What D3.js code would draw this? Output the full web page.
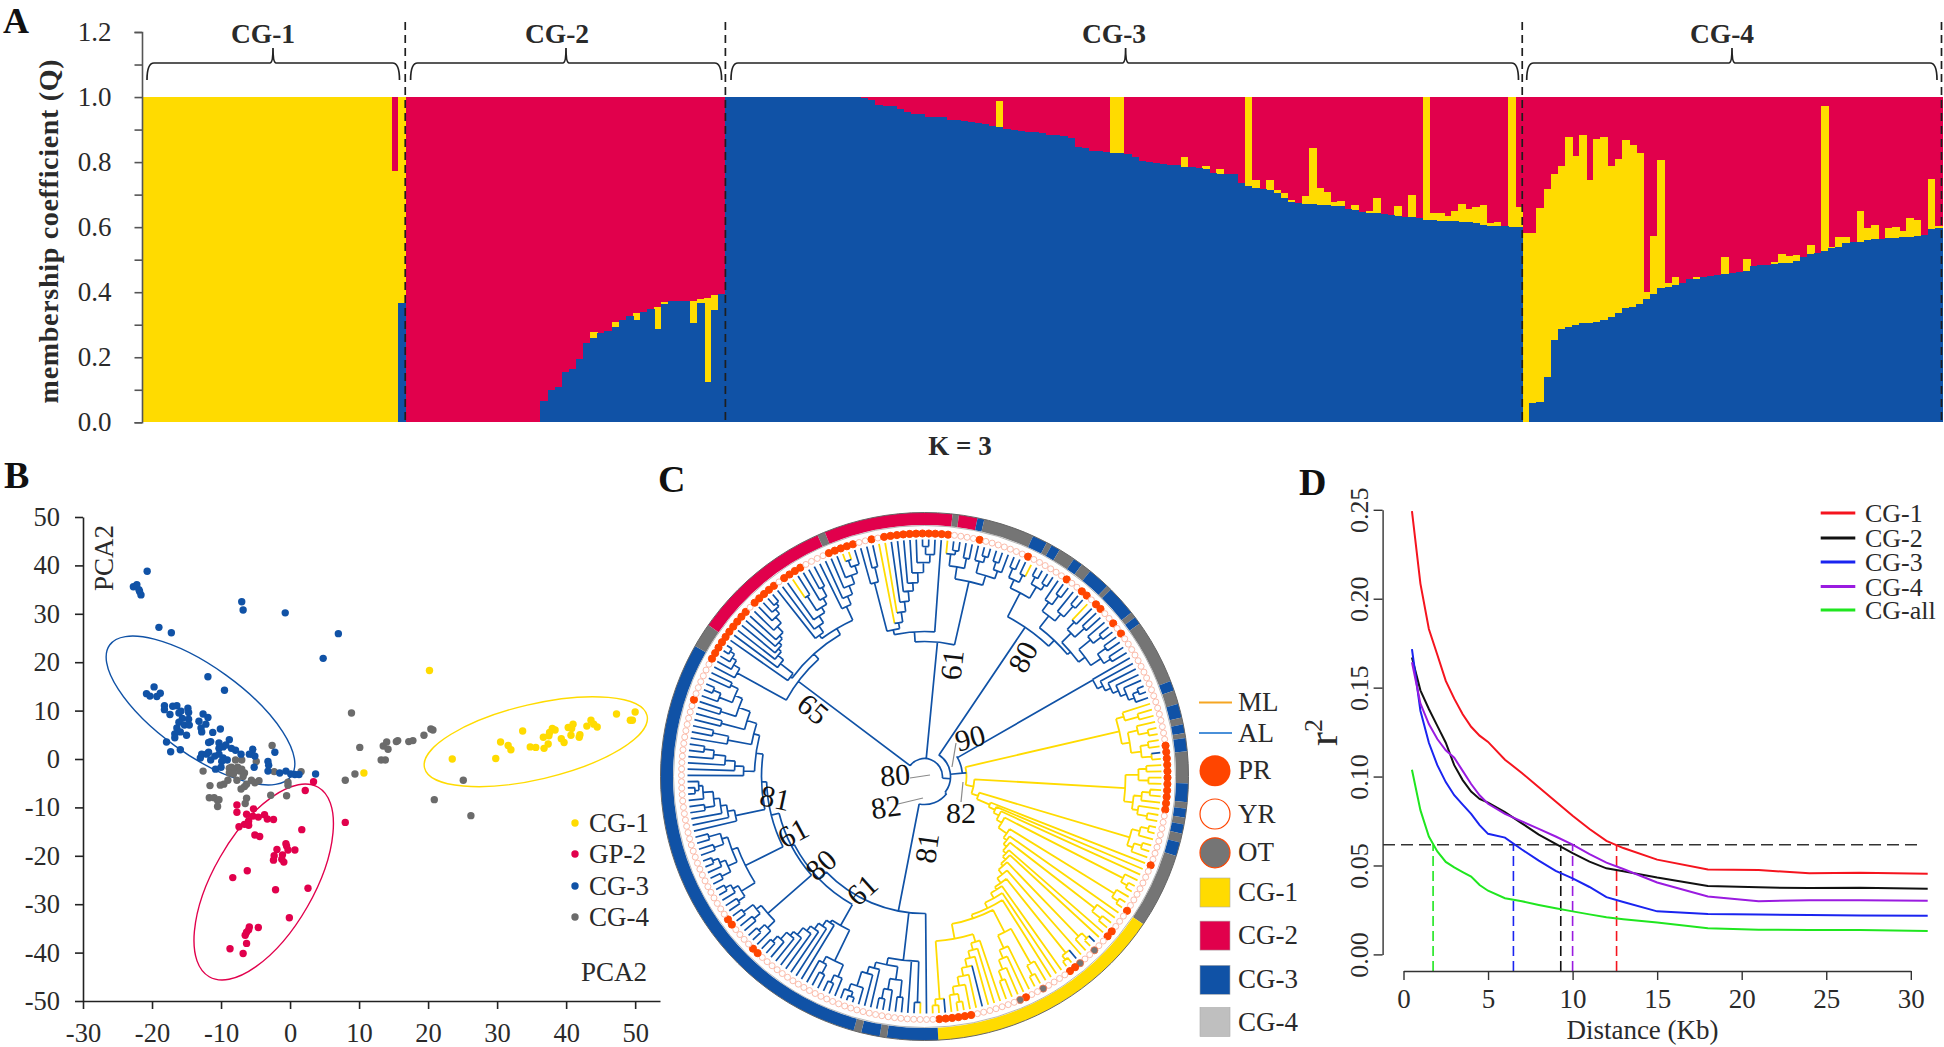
<!DOCTYPE html>
<html><head><meta charset="utf-8">
<script src="https://cdn.jsdelivr.net/npm/d3@7"></script>
<style>html,body{margin:0;padding:0;background:#fff}svg{display:block}text{font-family:"Liberation Serif",serif;fill:#2a2a2a}</style>
</head><body><svg id="c" width="1944" height="1047"></svg>
<script>
// ---------- PANEL A data: per-accession membership (blue top, yellow top; the rest up to 1 is red)
const cg1Blue=[0,0,0,0,0,0,0,0,0,0,0,0,0,0,0,0,0,0,0,0,0,0,0,0,0,0,0,0,0,0,0,0,0,0,0,0,.368];
const cg1Top =[1,1,1,1,1,1,1,1,1,1,1,1,1,1,1,1,1,1,1,1,1,1,1,1,1,1,1,1,1,1,1,1,1,1,1,.7725,1];
const cg2Blue=[0,0,0,0,0,0,0,0,0,0,0,0,0,0,0,0,0,0,0,.0666,.099,.11,.156,.163,.194,.243,.258,.276,.281,.294,.315,.328,.315,.34,.347,.288,.363,.372,.372,.373,.306,.368,.125,.345,.395];
const cg2Top =[0,0,0,0,0,0,0,0,0,0,0,0,0,0,0,0,0,0,0,.0666,.099,.11,.156,.163,.194,.243,.277,.276,.281,.309,.315,.328,.335,.34,.347,.353,.37,.372,.372,.373,.374,.38,.383,.391,.395];
const cg3Blue=[1,1,1,1,1,1,1,1,1,1,1,1,1,1,1,1,1,1,1,.998,.991,.975,.974,.974,.963,.955,.949,.947,.94,.938,.9375,.929,.928,.927,.924,.921,.918,.911,.909,.903,.899,.896,.894,.8935,.89,.883,.882,.88,.873,.846,.843,.835,.834,.832,.827,.827,.825,.8145,.804,.801,.796,.793,.792,.791,.786,.784,.781,.778,.765,.763,.763,.762,.735,.726,.721,.717,.714,.706,.6885,.678,.675,.671,.671,.669,.669,.666,.665,.655,.653,.6475,.644,.642,.639,.636,.634,.632,.63,.628,.622,.622,.62,.619,.618,.617,.615,.612,.608,.6045,.6045,.6035,.601,.5995];
const cg3Top =[1,1,1,1,1,1,1,1,1,1,1,1,1,1,1,1,1,1,1,.998,.991,.975,.974,.974,.963,.955,.949,.947,.94,.938,.9375,.929,.928,.927,.924,.921,.918,.911,.989,.903,.899,.896,.894,.8935,.89,.883,.882,.88,.873,.846,.843,.835,.834,.832,1,1,.825,.8145,.804,.801,.796,.793,.792,.791,.8145,.784,.781,.788,.765,.779,.763,.762,.735,1,.745,.717,.745,.714,.704,.685,.675,.696,.842,.719,.709,.678,.68,.655,.668,.6475,.65,.69,.639,.636,.665,.632,.70,.628,1,.645,.642,.634,.651,.671,.656,.663,.667,.614,.617,.6035,1,.661];
const cg4Blue=[0,.058,.0615,.138,.253,.286,.292,.299,.306,.306,.309,.3135,.325,.335,.35,.3555,.363,.378,.393,.412,.417,.422,.427,.44,.4405,.448,.451,.453,.456,.458,.461,.466,.4805,.4825,.4835,.487,.489,.491,.496,.507,.516,.519,.5275,.535,.538,.55,.553,.555,.56,.5625,.5645,.5655,.5665,.5695,.5705,.574,.575,.593,.596];
const cg4Top =[.581,.581,.658,.716,.762,.788,.876,.82,.883,.744,.871,.878,.788,.811,.869,.852,.829,.4,.573,.805,.429,.448,.427,.44,.446,.448,.451,.453,.508,.458,.461,.503,.4805,.4825,.4835,.492,.516,.511,.514,.507,.546,.519,.972,.54,.569,.569,.553,.651,.596,.6065,.5645,.596,.601,.588,.627,.621,.575,.748,.6035];
const qTicks=[0,.1,.2,.3,.4,.5,.6,.7,.8,.9,1,1.1,1.2];
const groupNames=["CG-1","CG-2","CG-3","CG-4"];

// ---------- PANEL B data: PCA coordinates
const pcaCG1=[[20.2,18.3],[10.7,-2.9],[23.5,0],[29.8,.1],[30.5,3.5],[31.6,2.8],[32,1.9],[33.7,5.8],[34.8,2.5],[35.6,2.4],[36.7,4.5],[37.5,4.8],[36.8,2.2],[37.4,3.1],[38,6.3],[38.4,6],[37.6,5.5],[39.3,4.2],[39.7,3.4],[40.3,6.5],[41,7.2],[40.7,4.9],[40.8,6.3],[41.9,4.5],[42,5],[43,6.8],[43.6,8],[44,7.2],[44.5,6.6],[47.3,9.3],[49.3,8],[49.6,8],[50,9.7]];
const pcaCG2=[[3.4,-4.7],[2.2,-6.5],[8,-13.1],[-7.7,-9.5],[-7.7,-11],[-5.3,-10.3],[-6.3,-11.4],[-5.4,-11.8],[-4.6,-12],[-3.7,-11.5],[-3.3,-12.4],[-2.4,-12.5],[-6,-12.8],[-6.6,-13.5],[-7.4,-14],[-6,-13.7],[-5.1,-15.7],[-4.4,-16],[1.7,-14.6],[-.6,-17.5],[-.5,-18],[-1.9,-18.7],[.7,-18.8],[-.3,-18.8],[-2.3,-20],[-1.1,-19.8],[-2.4,-20.9],[-1.2,-20.7],[-.9,-21.3],[-6.2,-23.1],[-8.3,-24.5],[-2.1,-27],[2.6,-26.7],[-.1,-32.8],[-4.6,-34.8],[-5.9,-34.7],[-6,-35.3],[-6.3,-35.8],[-6.5,-36.4],[-6.3,-38.1],[-6.8,-40.2],[-8.7,-39.2]];
const pcaCG3=[[-20.7,38.8],[-22.7,35.6],[-22.2,36],[-21.8,34.6],[-21.6,33.9],[-21.9,35],[-19,27.2],[-17.2,26.1],[-7,32.5],[-6.8,30.8],[-.7,30.2],[7,25.9],[4.8,20.8],[-11.9,17],[-9.5,14.2],[-20.8,13.5],[-20.3,13],[-19.7,14.9],[-19.3,12.9],[-18.8,13.6],[-18.2,11],[-18.2,10.2],[-17.4,9.2],[-17,10.9],[-16.4,11],[-16.1,9.5],[-15.8,9.9],[-15.6,8.4],[-16.1,7.6],[-16.4,6.4],[-15.9,5.6],[-16.7,5.2],[-15.3,7],[-14.8,10.5],[-14.7,9.6],[-14.7,8.2],[-14.6,7],[-15,4.9],[-16.7,4.4],[-17.9,3.5],[-17.3,1.5],[-15.9,1.9],[-13.2,7.8],[-12.9,6.4],[-12.6,9.3],[-11.9,8.6],[-12.2,7.2],[-12.8,5.6],[-11.2,5.5],[-10.1,6.2],[-11.5,3.6],[-11.8,3.4],[-10.3,3.3],[-10.3,2.2],[-9.7,2.5],[-8.8,4],[-9.3,2.9],[-8.5,2.2],[-7.9,1.8],[-7.1,1],[-5.4,2],[-5.5,1],[-5.9,1],[-5.1,.6],[-13,.2],[-12.8,1],[-12.1,1],[-11.5,-.2],[-10.9,.6],[-10.3,1],[-9.7,.2],[-9.9,-.5],[-10.8,-2.1],[-10,-1.7],[-11.8,1.4],[-9.1,-.2],[-5.2,-1.7],[-3.2,-.5],[-3.1,-1.3],[-3.2,-2.5],[-2.2,1.4],[-1.5,-2.9],[-.6,-2.5],[.1,-3.1],[.7,-3.2],[1.3,-3.2],[3.7,-3.1]];
const pcaCG4=[[8.9,9.5],[10.1,2.4],[9.4,-3.1],[8,-4.4],[13.2,-.2],[13.8,-.2],[13.5,2.7],[14,3.5],[14.2,2],[15.4,3.6],[15.6,3.8],[17.2,3.6],[17.8,3.8],[19.4,4.9],[20.4,6.2],[20.7,6],[25.1,-4.4],[20.9,-8.4],[26.2,-11.7],[-2.6,2.8],[1.6,-2.6],[-2.3,-2.6],[-12.6,-2.5],[-7.9,-.2],[-7,-.2],[-4.9,-.5],[-8.8,-1.9],[-8.5,-1.7],[-8.2,-2.1],[-8.8,-2.9],[-8.2,-3.1],[-7.6,-1.7],[-7,-2.1],[-6.6,-2.9],[-7.3,-2.5],[-6.8,-3.6],[-7.7,-4.4],[-9,-4.4],[-9.6,-5.2],[-10.1,-5.4],[-11.6,-5.5],[-5.6,-4.4],[-4.5,-4.5],[-5.1,-4.9],[-6.3,-5.2],[-6.6,-5.7],[-7.1,-6.2],[-.3,-4.8],[-.3,-5.4],[-2.8,-7.5],[-.5,-7.6],[-6.3,-8.1],[-6.5,-9.2],[-11.7,-8],[-11,-8],[-10.5,-8.6],[-10.3,-8.4],[-10.5,-9.8]];
const pcaNames=["CG-1","GP-2","CG-3","CG-4"];
const pcaTicksX=[-30,-20,-10,0,10,20,30,40,50];
const pcaTicksY=[-50,-40,-30,-20,-10,0,10,20,30,40,50];

// ---------- PANEL C data: ring classes, markers, tree
const ringStops=[[-55,"g"],[-23.9,"r"],[-22.2,"g"],[6.1,"r"],[7.5,"g"],[11.6,"r"],[13.1,"b"],[24.3,"g"],[27.6,"b"],[28.8,"g"],[30.8,"b"],[34.5,"g"],[36.6,"b"],[38.9,"g"],[43.8,"b"],[44.9,"g"],[51.6,"b"],[52.9,"g"],[54.6,"b"],[68.8,"g"],[71,"b"],[74,"g"],[77.1,"b"],[78.6,"g"],[80.5,"b"],[81.6,"g"],[84.5,"b"],[91.5,"g"],[95.6,"b"],[97,"g"],[99,"b"],[100.5,"g"],[102.5,"b"],[104.5,"g"],[107.5,"b"],[124,"g"],[177,"y"],[188.2,"b"],[189.8,"g"],[193.9,"b"],[195.6,"g"],[299.6,"b"]];
const ringEnd=305;
const prAngles=[-8.9,-7.6,-6.3,-5,-3.7,-2.4,-1.1,.2,1.5,2.8,4.1,5.6,12.5,25.4,35.2,40.9,42.3,45.2,46.7,51.1,53.8,83,84.2,85.4,86.6,87.8,89,90.2,91.4,92.6,93.8,95,96.2,97.4,98,110.7,123.5,129.5,130.8,142,143.5,154.9,169.2,170.4,171.6,172.8,174,175.2,176.2,234.7,231.8,224.7,223.3,288.6,298.7,300,301.2,302.4,303.6,304.5,307.2,308.4,309.6,310.8,312,313.1,315.7,316.9,318.1,319.3,320.5,321.5,324.3,325.6,326.9,328.2,329.1,330,337.1,338.3,339.5,340.7,341.9,342.9,347];
const otAngles=[136.3,140.6,150.6,156.7];

// shorthand for ladder clades: each item is a node radius with one leaf (0),
// or [radius, side branch]; node = [radius, child, child...]; leaf 0 = clade colour, leaf 1 = other colour
const ladder=(tail,...it)=>{let n=tail;for(let i=it.length-1;i>=0;i--){const a=it[i],r=Array.isArray(a)?a[0]:a,s=Array.isArray(a)?a[1]:0;n=[r,s,n];}return n;};
const cw=(...it)=>ladder(0,...it);

const c65=[158, cw(214,221,226,231),
  [165, cw(167,183,190,194,198,202,210,218,224,228),
    [172, cw(176,184,192,[198,[215,1,0]],205,215),
          cw(187,196,205,214,[222,[229,1,1]])]]];
const c61=[135,
  [145,[150,[200,0,[215,0,0]],cw([156,1],[166,1],176,186,194,204,214,[222,[230,0,0]])],0],
  [200,[212,[224,1,[228,0,0]],[222,0,0]],[210,[222,0,[228,0,0]],[218,[226,0,0],0]]]];
const c80=[180,
  [207,[216,[226,0,0],[224,0,1]],[220,[228,0,0],[226,0,0]]],
  [188,[203,[214,0,[225,0,0]],[212,0,[226,0,0]]],
       [192,[205,[215,1,0],[218,0,0]],[200,[215,0,[225,0,0]],[212,[222,0,0],[220,0,0]]]]]];
const c90=cw(194,200,206,212,218,[224,[230,0,0]]);
const cYa=[200,[208,0,[222,0,0]],[208,[218,0,[228,0,0]],[218,[226,0,0],[228,1,0]]]];
const cYb=[201,[214,[222,0,0],[224,0,0]],[210,[218,[226,0,0],0],[216,0,[226,0,0]]]];
const cYc=[214,[222,[230,0,0],0],[220,[228,0,0],0]];
const cYend=[150,
  [175,[215,0,[226,0,0]],cw(189,198,208,[218,0])],
  [165,cw(173,180,187,[195,1],203,212,[220,[228,0,0]]),[223,1,[229,0,0]]]];
const cYcomb=ladder(cYend,71,78,84,[90,[223,0,[230,0,0]]],[100,[223,0,[230,0,0]]],104,[108,[215,0,[226,0,0]]],112,116,[119,[222,[229,1,0],0]],125,[131,[226,1,[231,0,0]]],134,140,146);
const cY=[42,cYa,[50,cYb,[57,cYc,cYcomb]]];
const n10=[206,[220,0,[228,0,0]],[214,0,0]];
const n9=[198,[214,0,0],n10];
const n8=[186,[210,0,0],n9];
const n7=[176,[200,0,[216,0,0]],n8];
const n6=[170,cw(181,190,200,212,222),n7];
const n5=[163,cw(193,200,206,[212,[222,0,0]],222,[226,[230,0,0]]),n6];
const n4=[158,[200,[216,[224,0,0],[222,0,[228,0,0]]],[206,[216,[226,0,0],[222,0,[228,0,0]]],[212,[222,0,0],[224,0,0]]]],n5];
const n3=[150,[208,[218,0,[226,0,0]],[214,[222,0,0],[226,0,0]]],n4];
const n2=[147,[171,[205,[218,0,[226,0,0]],[212,[222,0,0],0]],cw(174,181,188,194,203,208,217,224)],n3];
const c81=[137,0,[185,[226,1,0],0,[192,[205,[222,0,0],[216,0,[226,0,0]]],cw(198,205,220,[227,[232,0,0]])]],n2];
const cladeSpecs=[c65,c61,c80,c90,cY,c81];
const cladeStemFrom=[18,18,26,38,38,28];
const cladeStemAngle=[307,365.5,394,420.2,445,551];
const cladeYellow=[false,false,false,false,true,false];
const centerArcs=[[18,307,455],[26,393,488],[28,488,551],[38,418,445]];
const centerLinks=[[18,26,455],[26,28,488],[26,38,445]];
const supportLabels=[["65",813,709,40],["61",952,665,-84],["80",1023,657,-62],["90",970,738,-15],["80",895,775,-5],["82",886,807,-8],["82",961,813,0],["81",927,848,-82],["81",775,798,12],["61",793,833,-28],["80",821,865,-42],["61",862,890,-42]];
const leaders=[[910,778,930,775],[898,804,923,798],[961,802,963,782],[952,767,956,743]];
const treeLegendNames=["ML","AL","PR","YR","OT","CG-1","CG-2","CG-3","CG-4"];

// ---------- PANEL D data: LD decay
const ldNames=["CG-1","CG-2","CG-3","CG-4","CG-all"];
const kbMain=[.5,1,1.5,2,2.5,3,3.5,4,4.5,5,6,7,8,9,10,11,12,13,15,18,21,24,27,31];
const ld1=[.2492,.2085,.183,.1685,.1538,.1438,.135,.128,.123,.1195,.1095,.102,.094,.086,.078,.0705,.0638,.0598,.0533,.0478,.0474,.0457,.0459,.0453];
const ld2=[.167,.1485,.138,.1285,.119,.1064,.098,.0916,.0874,.0853,.08,.0737,.0674,.0621,.0569,.0522,.0484,.0468,.0432,.0385,.0377,.0373,.0375,.0369];
const ld3=[.1717,.137,.119,.1064,.0969,.0895,.0842,.079,.0727,.0678,.0657,.059,.0527,.047,.0428,.0379,.0322,.0295,.0242,.0227,.0225,.0221,.0219,.0217];
const ld4=[.1643,.1411,.1295,.1211,.1148,.1106,.1032,.0958,.0895,.0847,.079,.0748,.0706,.0663,.0617,.0564,.0516,.048,.0404,.0326,.0299,.0305,.0305,.0301];
const ldAll=[.1038,.0811,.0663,.0579,.052,.0489,.0463,.0438,.039,.0358,.0316,.0299,.0278,.0259,.0242,.0225,.0209,.0198,.0179,.0147,.0139,.0137,.0137,.0131];
const halfDecayKb=[12.6,9.3,6.5,10,1.75];
const halfDecayR2=.0617;

// ---------- colours
const YEL="#ffdb00",RED="#e1004c",BLU="#1052a6",GRY="#757575";
const svg=d3.select("#c");
const T=(g,s,x,y,o={})=>{const t=g.append("text").text(s).attr("x",x).attr("y",y).attr("font-size",o.size||25);
  if(o.bold)t.attr("font-weight","bold");if(o.anchor)t.attr("text-anchor",o.anchor);if(o.rot!==undefined)t.attr("transform",`rotate(${o.rot} ${x} ${y})`);return t;};

// panel letters
[["A",3,33,36],["B",4,488,38],["C",658,492,38],["D",1299,495,38]].forEach(d=>T(svg,d[0],d[1],d[2],{size:d[3],bold:true}).style("fill","#111"));

// ========== A
{
 const g=svg.append("g");
 const blue=[...cg1Blue,...cg2Blue,...cg3Blue,...cg4Blue];
 const top=[...cg1Top,...cg2Top,...cg3Top,...cg4Top];
 const x=d3.scaleBand().domain(d3.range(blue.length)).range([142,1942]);
 const y=d3.scaleLinear().domain([0,1.2]).range([422.3,32]);
 const rows=blue.map((b,i)=>({i,b,t:top[i]}));
 const seg=(lo,hi,c)=>g.append("g").attr("shape-rendering","crispEdges").selectAll("rect").data(rows.filter(d=>hi(d)>lo(d))).join("rect")
   .attr("x",d=>x(d.i)).attr("width",x.bandwidth()+.6).attr("y",d=>y(hi(d))).attr("height",d=>y(lo(d))-y(hi(d))).attr("fill",c);
 seg(d=>d.t,d=>1,RED); seg(d=>d.b,d=>d.t,YEL); seg(d=>0,d=>d.b,BLU);
 const ax=g.append("g").attr("transform","translate(142,0)").call(d3.axisLeft(y).tickValues(qTicks).tickSize(7.5).tickPadding(23)
   .tickFormat(v=>Math.abs(v*5-Math.round(v*5))<1e-6?d3.format(".1f")(v):""));
 ax.selectAll("path,line").attr("stroke","#555").attr("stroke-width",1.6);
 ax.selectAll("text").attr("font-size",27).style("font-family",'"Liberation Serif"');
 T(g,"membership coefficient (Q)",50,231,{size:28,bold:true,anchor:"middle",rot:-90}).attr("dy",8).style("letter-spacing",".7px");
 const cuts=[0,cg1Blue.length,cg1Blue.length+cg2Blue.length,cg1Blue.length+cg2Blue.length+cg3Blue.length,blue.length];
 cuts.slice(1).forEach((c,i)=>g.append("line").attr("x1",i==3?1941.5:x(c)).attr("x2",i==3?1941.5:x(c)).attr("y1",22).attr("y2",422).attr("stroke","#1e1e1e").attr("stroke-width",1.7).attr("stroke-dasharray","8,5"));
 const brackets=[[147,399.5,273,263],[410.6,721.6,566,557],[731,1518.5,1125.6,1114],[1526.7,1937,1732,1722]];
 brackets.forEach((b,i)=>{
  const p=d3.path();const t=63,bot=80,pk=48;
  p.moveTo(b[0],bot);p.quadraticCurveTo(b[0],t,b[0]+7,t);p.lineTo(b[2]-3,t);p.quadraticCurveTo(b[2],t,b[2],pk);
  p.quadraticCurveTo(b[2],t,b[2]+3,t);p.lineTo(b[1]-7,t);p.quadraticCurveTo(b[1],t,b[1],bot);
  g.append("path").attr("d",p.toString()).attr("fill","none").attr("stroke","#222").attr("stroke-width",1.7);
  T(g,groupNames[i],b[3],42.5,{size:27.5,bold:true,anchor:"middle"});
 });
 T(g,"K = 3",960,455,{size:27,bold:true,anchor:"middle"});
}

// ========== B
{
 const g=svg.append("g");
 const x=d3.scaleLinear().domain([-30,53.6]).range([83,660]);
 const y=d3.scaleLinear().domain([-50,50]).range([1001,517]);
 const sets=[[pcaCG4,GRY,"#6b6b6b"],[pcaCG3,BLU],[pcaCG2,RED],[pcaCG1,YEL]];
 const ell=[[200.5,710.5,112,43.6,35.8,BLU],[535.8,741.7,114.3,37.6,-13.2,YEL],[263.7,882,109.3,50.2,-60.1,RED]];
 ell.forEach(e=>g.append("ellipse").attr("cx",e[0]).attr("cy",e[1]).attr("rx",e[2]).attr("ry",e[3]).attr("transform",`rotate(${e[4]} ${e[0]} ${e[1]})`).attr("fill","none").attr("stroke",e[5]).attr("stroke-width",1.4));
 sets.forEach(s=>g.append("g").selectAll("circle").data(s[0]).join("circle").attr("cx",d=>x(d[0])).attr("cy",d=>y(d[1])).attr("r",3.7).attr("fill",s[2]||s[1]));
 const ax=g.append("g").attr("transform","translate(0,1001)").call(d3.axisBottom(x).tickValues(pcaTicksX).tickSize(8).tickPadding(14).tickSizeOuter(0).tickFormat(d=>d));
 const ay=g.append("g").attr("transform","translate(83,0)").call(d3.axisLeft(y).tickValues(pcaTicksY).tickSize(8).tickPadding(15).tickSizeOuter(0).tickFormat(d=>d));
 [ax,ay].forEach(a=>{a.selectAll("path,line").attr("stroke","#222").attr("stroke-width",1.6);a.selectAll("text").attr("font-size",26.5).text(function(){return this.textContent.replace("−","-");}).style("font-family",'"Liberation Serif"');});
 T(g,"PCA2",113,558,{size:27,anchor:"middle",rot:-90});
 T(g,"PCA2",614,981,{size:27,anchor:"middle"});
 const cols=[YEL,RED,BLU,"#6b6b6b"],ly=[823,854,886,917];
 pcaNames.forEach((n,i)=>{g.append("circle").attr("cx",575).attr("cy",ly[i]).attr("r",3.7).attr("fill",cols[i]);T(g,n,589,ly[i]+9,{size:27});});
}

// ========== C
{
 const g=svg.append("g"),cx=924.5,cy=776.5,TIP=237,RL=243;
 const rad=d=>d*Math.PI/180;
 const pol=(a,r)=>[cx+r*Math.sin(rad(a)),cy-r*Math.cos(rad(a))];
 const toNode=s=>Array.isArray(s)?{r:s[0],children:s.slice(1).map(toNode)}:{odd:s===1};
 const roots=cladeSpecs.map(toNode);
 const forest=d3.hierarchy({r:0,children:roots});
 const leaves=forest.leaves();
 const ang=d3.scaleLinear().domain([0,leaves.length]).range([297.5,657.5]);
 leaves.forEach((l,i)=>{l.a=ang(i);l.i=i;});
 forest.eachAfter(n=>{if(n.children)n.a=(n.children[0].a+n.children[n.children.length-1].a)/2;});
 // ring
 const RC={y:YEL,r:RED,b:BLU,g:GRY};
 const arcGen=d3.arc().innerRadius(251.5).outerRadius(264);
 ringStops.forEach((s,i)=>{
   const a0=s[0],a1=i<ringStops.length-1?ringStops[i+1][0]:ringEnd;
   g.append("path").attr("transform",`translate(${cx},${cy})`).attr("d",arcGen({startAngle:rad(a0),endAngle:rad(a1)})).attr("fill",RC[ringStops[i+1]?ringStops[i+1][1]:"g"]);
 });
 g.append("circle").attr("cx",cx).attr("cy",cy).attr("r",264).attr("fill","none").attr("stroke","#666").attr("stroke-width",1);
 g.append("circle").attr("cx",cx).attr("cy",cy).attr("r",251).attr("fill","none").attr("stroke","#999").attr("stroke-width",.7);
 // branches
 const bl=[],yl=[];
 const addArc=(r,a0,a1,col)=>{const p=d3.path();p.arc(cx,cy,r,rad(a0-90),rad(a1-90));col.push(p.toString());};
 const addRad=(a,r0,r1,col)=>{const p=d3.path();const s=pol(a,r0),e=pol(a,r1);p.moveTo(s[0],s[1]);p.lineTo(e[0],e[1]);col.push(p.toString());};
 forest.children.forEach((cl,ci)=>{
   const own=cladeYellow[ci]?yl:bl,other=cladeYellow[ci]?bl:yl;
   addRad(cladeStemAngle[ci],cladeStemFrom[ci],cl.data.r,bl);
   cl.each(n=>{ if(!n.children)return;
     const fc=n.children[0],lc=n.children[n.children.length-1];
     addArc(n.data.r,fc.a,lc.a,own);
     n.children.forEach(ch=>addRad(ch.a,n.data.r,ch.children?ch.data.r:TIP,ch.data.odd?other:own));
   });
 });
 centerArcs.forEach(a=>addArc(a[0],a[1],a[2],bl));
 centerLinks.forEach(l=>addRad(l[2],l[0],l[1],bl));
 g.append("path").attr("d",yl.join("")).attr("fill","none").attr("stroke",YEL).attr("stroke-width",1.8);
 g.append("path").attr("d",bl.join("")).attr("fill","none").attr("stroke",BLU).attr("stroke-width",1.7);
 // leaf markers
 const nearest=a=>{const n=leaves.length,k=((a-297.5)%360+360)%360;return Math.round(k/360*n)%n;};
 const pr=new Set(prAngles.map(nearest)),ot=new Set(otAngles.map(nearest));
 g.append("g").selectAll("circle").data(leaves).join("circle").each(function(l){const p=pol(l.a,RL);d3.select(this).attr("cx",p[0]).attr("cy",p[1]);})
   .attr("r",d=>pr.has(d.i)||ot.has(d.i)?3.6:3).attr("fill",d=>ot.has(d.i)?GRY:pr.has(d.i)?"#ff4500":"#fff").attr("stroke",d=>ot.has(d.i)?"#ff7040":pr.has(d.i)?"#ff4500":"#fbbcab").attr("stroke-width",d=>ot.has(d.i)?.8:1);
 // support
 leaders.forEach(l=>g.append("line").attr("x1",l[0]).attr("y1",l[1]).attr("x2",l[2]).attr("y2",l[3]).attr("stroke","#8a8a8a").attr("stroke-width",1.2));
 supportLabels.forEach(s=>g.append("text").text(s[0]).attr("text-anchor","middle").attr("dy",".34em").attr("font-size",30).attr("transform",`translate(${s[1]},${s[2]}) rotate(${s[3]})`).style("fill","#111"));
 // legend
 const ty=[702.6,733,770.7,814,852.8,892.5,935.6,979.8,1022];
 [["#f5a623"],["#4a90d9"]].forEach((c,i)=>g.append("line").attr("x1",1199).attr("x2",1232).attr("y1",ty[i]).attr("y2",ty[i]).attr("stroke",c[0]).attr("stroke-width",2));
 g.append("circle").attr("cx",1215).attr("cy",ty[2]).attr("r",15.5).attr("fill","#ff4500");
 g.append("circle").attr("cx",1215).attr("cy",ty[3]).attr("r",15).attr("fill","#fff").attr("stroke","#ff4500").attr("stroke-width",1.2);
 g.append("circle").attr("cx",1215).attr("cy",ty[4]).attr("r",15).attr("fill",GRY).attr("stroke","#ff4500").attr("stroke-width",1.2);
 [YEL,RED,BLU,"#bfbfbf"].forEach((c,i)=>g.append("rect").attr("x",1200).attr("y",ty[5+i]-14.5).attr("width",30).attr("height",29).attr("fill",c).attr("stroke","#aaa").attr("stroke-width",.6));
 treeLegendNames.forEach((n,i)=>T(g,n,1238,ty[i]+8.5,{size:27}));
}

// ========== D
{
 const g=svg.append("g");
 const x=d3.scaleLinear().domain([0,30]).range([1403.5,1910.8]);
 const y=d3.scaleLinear().domain([0,.25]).range([954.4,509.8]);
 const ys=[ld1,ld2,ld3,ld4,ldAll],cols=["#f5141e","#111","#1a24f0","#9a1be0","#1fe61f"];
 const line=d3.line().x(d=>x(d[0])).y(d=>y(d[1]));
 g.append("line").attr("x1",1383).attr("x2",x(30.5)).attr("y1",y(halfDecayR2)).attr("y2",y(halfDecayR2)).attr("stroke","#333").attr("stroke-width",1.5).attr("stroke-dasharray","12,6");
 halfDecayKb.forEach((k,i)=>g.append("line").attr("x1",x(k)).attr("x2",x(k)).attr("y1",971).attr("y2",y(halfDecayR2)).attr("stroke",cols[i]).attr("stroke-width",1.6).attr("stroke-dasharray","10,5"));
 ys.forEach((v,i)=>g.append("path").attr("d",line(kbMain.map((k,j)=>[k,v[j]]))).attr("fill","none").attr("stroke",cols[i]).attr("stroke-width",2));
 const ax=g.append("g").attr("transform","translate(0,971)").call(d3.axisBottom(x).tickValues([0,5,10,15,20,25,30]).tickSize(9).tickPadding(9).tickSizeOuter(0));
 const ay=g.append("g").attr("transform","translate(1382.6,0)").call(d3.axisLeft(y).tickValues([0,.05,.1,.15,.2,.25]).tickSize(9).tickSizeOuter(0).tickFormat(d3.format(".2f")));
 [ax,ay].forEach(a=>{a.selectAll("path,line").attr("stroke","#333").attr("stroke-width",1.4);a.selectAll("text").attr("font-size",27).style("font-family",'"Liberation Serif"');});
 ay.selectAll("text").attr("font-size",26).attr("transform","rotate(-90)").attr("x",0).attr("y",-15).attr("dy",0).attr("text-anchor","middle");
 const r=T(g,"r",1337,746,{size:42,rot:-90});r.append("tspan").text("2").attr("font-size",26).attr("dy",-15);
 T(g,"Distance (Kb)",1642.5,1039,{size:27,anchor:"middle"});
 const ly=[513,538,562,586.6,610];
 ldNames.forEach((n,i)=>{g.append("line").attr("x1",1820.7).attr("x2",1855.3).attr("y1",ly[i]).attr("y2",ly[i]).attr("stroke",cols[i]).attr("stroke-width",3);T(g,n,1865,ly[i]+9,{size:26});});
}
</script></body></html>
